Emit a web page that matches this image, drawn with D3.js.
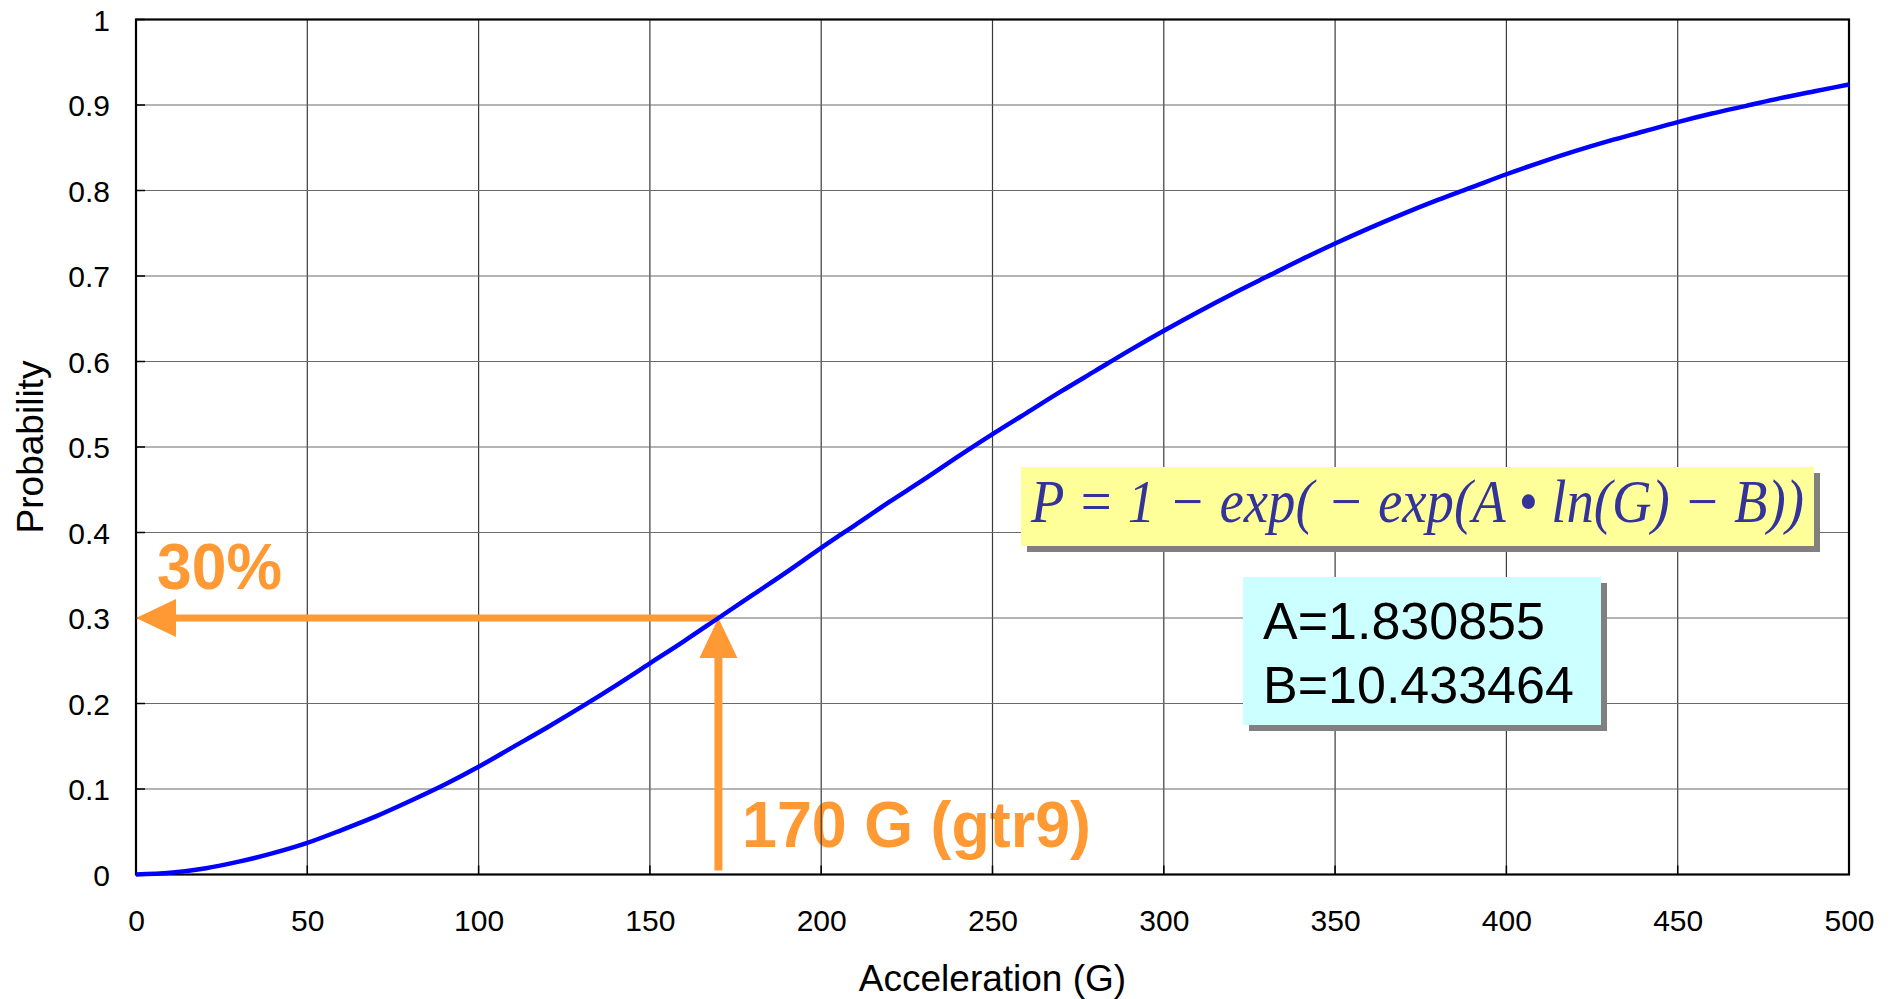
<!DOCTYPE html>
<html>
<head>
<meta charset="utf-8">
<script src="https://cdn.jsdelivr.net/npm/d3@7"></script>
<style>
html, body { margin: 0; padding: 0; background: #fff; }
svg { display: block; }
</style>
</head>
<body>
<svg id="chart" width="1894" height="999"></svg>
<script>
// ---- data ----
const accelG = [0,10,20,30,40,50,60,70,80,90,100,110,120,130,140,150,160,170,180,190,200,
  210,220,230,240,250,260,270,280,290,300,310,320,330,340,350,360,370,380,390,400,
  410,420,430,440,450,460,470,480,490,500];
const probability = [0,0.002,0.007,0.015,0.025,0.037,0.052,0.068,0.086,0.105,0.126,0.149,0.172,0.196,0.221,0.247,0.273,0.300,0.327,0.354,0.382,
  0.409,0.436,0.462,0.489,0.515,0.540,0.565,0.589,0.613,0.636,0.658,0.679,0.699,0.719,0.738,0.756,0.773,0.789,0.804,0.819,
  0.833,0.846,0.858,0.869,0.880,0.890,0.899,0.908,0.916,0.924];
const xTicks = [0,50,100,150,200,250,300,350,400,450,500];
const yTicks = [0,0.1,0.2,0.3,0.4,0.5,0.6,0.7,0.8,0.9,1];
const xTitle = "Acceleration (G)";
const yTitle = "Probability";
const markerG = [170];
const markerP = [0.3];
const markerLabels = ["30%", "170 G (gtr9)"];
const formulaText = "P = 1 \u2212 exp( \u2212 exp(A \u2022 ln(G) \u2212 B))";
const paramLabels = ["A=1.830855", "B=10.433464"];

// ---- layout ----
const svg = d3.select("#chart");
const pLeft = 136, pRight = 1849, pTop = 19.5, pBottom = 874.5;
const x = d3.scaleLinear().domain([0, 500]).range([pLeft, pRight]);
const y = d3.scaleLinear().domain([0, 1]).range([pBottom, pTop]);
const orange = "#ff9933";
const sans = "'Liberation Sans', Arial, sans-serif";

// annotation text under grid (grid shows through in reference)
svg.append("text")
  .attr("x", 742).attr("y", 847)
  .attr("font-family", sans).attr("font-weight", "bold")
  .attr("font-size", 64).attr("fill", orange)
  .attr("textLength", 349).attr("lengthAdjust", "spacingAndGlyphs")
  .text(markerLabels[1]);

// grid
const grid = svg.append("g");
grid.selectAll("line.v").data(xTicks.slice(1, -1)).enter().append("line")
  .attr("x1", d => x(d)).attr("x2", d => x(d))
  .attr("y1", pTop).attr("y2", pBottom)
  .attr("stroke", "#3a3a3a").attr("stroke-width", 1.2);
grid.selectAll("line.h").data(yTicks.slice(1, -1)).enter().append("line")
  .attr("y1", d => y(d)).attr("y2", d => y(d))
  .attr("x1", pLeft).attr("x2", pRight)
  .attr("stroke", "#6a6a6a").attr("stroke-width", 1.2);

// axes
const xAxis = d3.axisBottom(x).tickValues(xTicks).tickSize(0).tickPadding(0).tickFormat(d3.format("d"));
const gx = svg.append("g").attr("transform", `translate(0,${pBottom})`).call(xAxis);
gx.select(".domain").remove();
gx.selectAll("text").attr("font-family", sans).attr("font-size", 30).attr("fill", "#000")
  .attr("dy", null).attr("y", 56);

const yAxis = d3.axisLeft(y).tickValues(yTicks).tickSize(0).tickPadding(0).tickFormat(d => d3.format("~g")(d));
const gy = svg.append("g").attr("transform", `translate(${pLeft},0)`).call(yAxis);
gy.select(".domain").remove();
gy.selectAll("text").attr("font-family", sans).attr("font-size", 30).attr("fill", "#000")
  .attr("x", -26).attr("dy", "0.36em");

// inner tick marks
svg.append("g").selectAll("line").data(yTicks).enter().append("line")
  .attr("x1", pLeft).attr("x2", pLeft + 9).attr("y1", d => y(d)).attr("y2", d => y(d))
  .attr("stroke", "#000").attr("stroke-width", 1.5);
svg.append("g").selectAll("line").data(xTicks).enter().append("line")
  .attr("y1", pBottom).attr("y2", pBottom - 9).attr("x1", d => x(d)).attr("x2", d => x(d))
  .attr("stroke", "#000").attr("stroke-width", 1.5);

// frame
svg.append("rect").attr("x", pLeft).attr("y", pTop)
  .attr("width", pRight - pLeft).attr("height", pBottom - pTop)
  .attr("fill", "none").attr("stroke", "#000").attr("stroke-width", 2.2);

// titles
svg.append("text").attr("x", (pLeft + pRight) / 2).attr("y", 991)
  .attr("text-anchor", "middle").attr("font-family", sans).attr("font-size", 37)
  .text(xTitle);
svg.append("text").attr("transform", `translate(43,${(pTop + pBottom) / 2}) rotate(-90)`)
  .attr("text-anchor", "middle").attr("font-family", sans).attr("font-size", 37)
  .text(yTitle);

// arrows
const ax = x(markerG[0]), ay = y(markerP[0]);
const headL = 40, headW = 19;
svg.append("line").attr("x1", x(0) + headL - 2).attr("x2", ax)
  .attr("y1", ay).attr("y2", ay).attr("stroke", orange).attr("stroke-width", 7);
svg.append("path")
  .attr("d", `M${x(0)},${ay} L${x(0) + headL},${ay - headW} L${x(0) + headL},${ay + headW} Z`)
  .attr("fill", orange);
svg.append("line").attr("x1", ax).attr("x2", ax)
  .attr("y1", y(0) - 4).attr("y2", ay + headL - 2)
  .attr("stroke", orange).attr("stroke-width", 8);
svg.append("path")
  .attr("d", `M${ax},${ay} L${ax - headW},${ay + headL} L${ax + headW},${ay + headL} Z`)
  .attr("fill", orange);

svg.append("text")
  .attr("x", 157).attr("y", 589)
  .attr("font-family", sans).attr("font-weight", "bold")
  .attr("font-size", 64).attr("fill", orange)
  .attr("textLength", 125).attr("lengthAdjust", "spacingAndGlyphs")
  .text(markerLabels[0]);

// curve
const line = d3.line().x((d, i) => x(accelG[i])).y(d => y(d)).curve(d3.curveMonotoneX);
svg.append("path").datum(probability)
  .attr("d", line).attr("fill", "none")
  .attr("stroke", "#0000ff").attr("stroke-width", 4.5);

// formula box
svg.append("rect").attr("x", 1027).attr("y", 473).attr("width", 793).attr("height", 79).attr("fill", "#808080");
svg.append("rect").attr("x", 1021).attr("y", 467).attr("width", 793).attr("height", 79).attr("fill", "#ffff99");
svg.append("text").attr("x", 1031).attr("y", 522)
  .attr("font-family", "'Liberation Serif', 'Times New Roman', serif").attr("font-style", "italic")
  .attr("font-size", 61).attr("fill", "#333399")
  .attr("textLength", 773).attr("lengthAdjust", "spacingAndGlyphs")
  .text(formulaText);

// parameter box
svg.append("rect").attr("x", 1249).attr("y", 583).attr("width", 358).attr("height", 148).attr("fill", "#808080");
svg.append("rect").attr("x", 1243).attr("y", 577).attr("width", 358).attr("height", 148).attr("fill", "#ccffff");
svg.append("g").selectAll("text").data(paramLabels).enter().append("text")
  .attr("x", 1263).attr("y", (d, i) => 639 + i * 64)
  .attr("font-family", sans).attr("font-size", 52).attr("fill", "#000")
  .text(d => d);
</script>
</body>
</html>
